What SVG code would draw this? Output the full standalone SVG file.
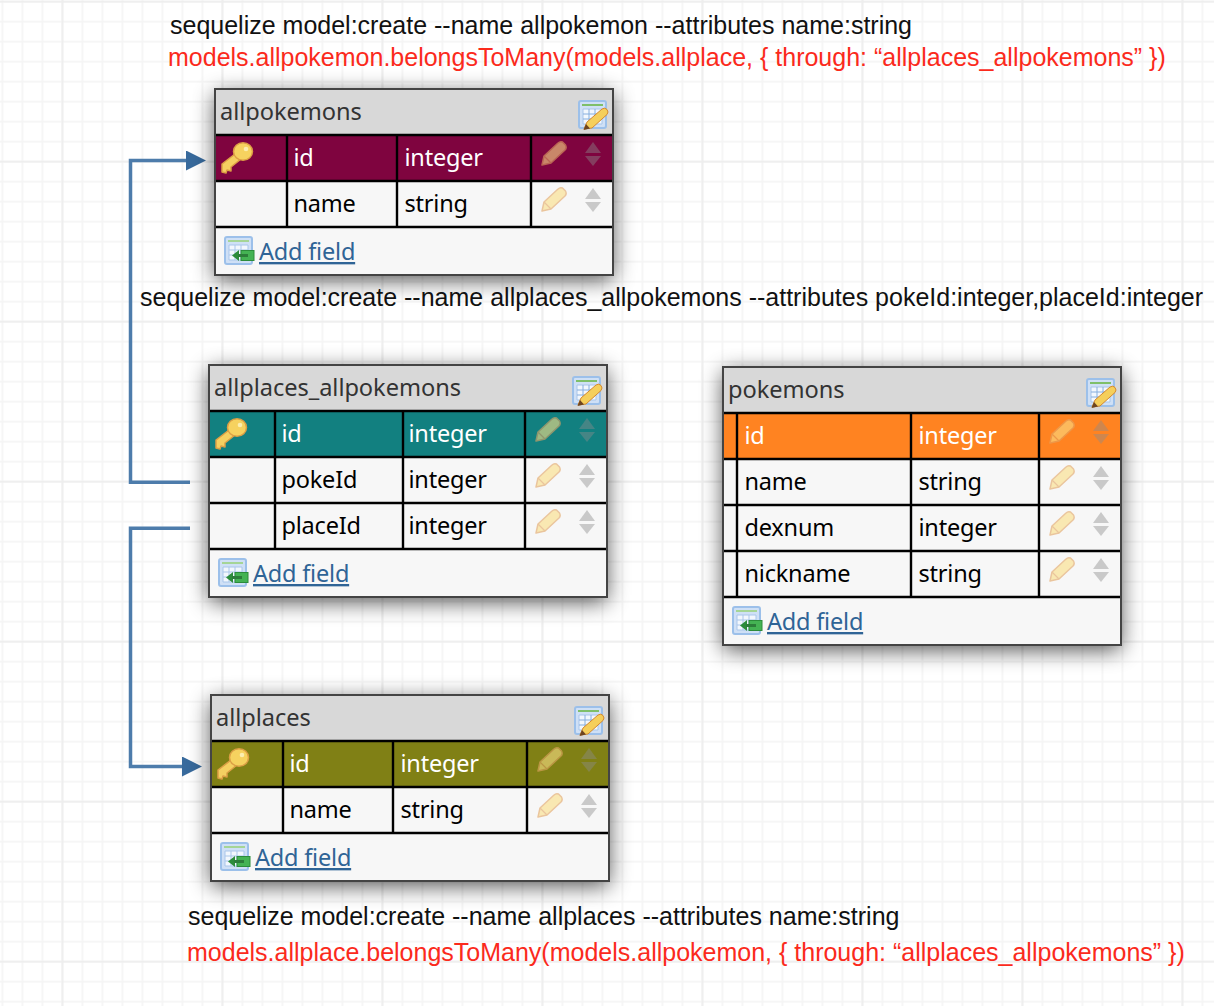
<svg xmlns="http://www.w3.org/2000/svg" width="1214" height="1006" viewBox="0 0 1214 1006">
<style>
.note{font-family:"Liberation Sans",Arial,sans-serif;font-size:25px;fill:#111}
.red{fill:#fb2a1c}
.title{font-family:"Noto Sans",sans-serif;font-size:23.6px;letter-spacing:-.05px;fill:#333}
.cell{font-family:"Noto Sans",sans-serif;font-size:23.5px;letter-spacing:-.2px;fill:#000}
.hd{fill:#fff}
.add{font-family:"Noto Sans",sans-serif;font-size:23.5px;letter-spacing:-.2px;fill:#2f6496;text-decoration:underline}
.box{fill:#f7f7f7}
.head{fill:#d8d8d8}
.frame{fill:none;stroke:#444;stroke-width:2}
.sep{stroke:#000;stroke-width:2.4;fill:none}
.conn{fill:none;stroke:#4d7cab;stroke-width:3.5}
.shade{fill:#000;opacity:.68}
</style>
<defs>
<pattern id="gminor" width="20" height="20" patternUnits="userSpaceOnUse" x="1.500" y="0.700"><path d="M0 0V20M0 0H20" stroke="#f5f5f5" stroke-width="3.600" fill="none"/></pattern>
<pattern id="gmajor" width="160" height="160" patternUnits="userSpaceOnUse" x="61.500" y="0.700"><path d="M0 0V160M0 0H160" stroke="#eeeeee" stroke-width="3.600" fill="none"/></pattern>
<filter id="shadow" x="-20%" y="-25%" width="140%" height="150%"><feGaussianBlur stdDeviation="11"/></filter>
<marker id="arrow" markerUnits="userSpaceOnUse" markerWidth="20" markerHeight="20" refX="0" refY="10" orient="auto"><path d="M0 0L20 10L0 20Z" fill="#386a9c"/></marker>
<g id="key">
<path d="M1 22L14 12L20 17L10 25L10 29L6 28L5 31L1 30Z" fill="#f5d061" stroke="#dc9f45" stroke-width="1.500" stroke-linejoin="round"/>
<ellipse cx="22" cy="9.500" rx="9.500" ry="8.800" fill="#f6d25f" stroke="#dc9f45" stroke-width="1.500"/>
<circle cx="25" cy="7" r="2.300" fill="#fbeeb0"/>
</g>
<g id="pencil" opacity=".6">
<path d="M0 23L2 14L16 1Q18 -1 20.500 0L23.500 3Q25 6 23 8L9 21Z" fill="#fbdf85" stroke="#e2a563" stroke-width="1.500" stroke-linejoin="round"/>
<path d="M2 14L9 21" stroke="#e2a563" stroke-width="1.200" fill="none"/>
</g>
<g id="updown" fill="#8c8c8c" opacity=".42"><path d="M0 11L8 0L16 11Z"/><path d="M0 14L16 14L8 24Z"/></g>
<g id="tableedit">
<rect x="1" y="1" width="27" height="27" rx="2" fill="#cfe0f6" stroke="#9cc0ea" stroke-width="2"/>
<rect x="4" y="4" width="21" height="2" fill="#7fbf6a"/>
<path d="M5 9H24V24H5Z" fill="#f2f7fd" stroke="#a9c6ea"/>
<path d="M5 14H24M5 19H24M11 9V24M17 9V24" stroke="#86aede" fill="none"/>
<path d="M6 29L9 22L24 9Q27 7 29 9.500Q31 12 29 14.500L14 28Z" fill="#f5cf5b" stroke="#d5892f"/>
<path d="M5.500 30L8 24L12 28.500Z" fill="#6d4420"/>
</g>
<g id="addfield">
<rect x="1" y="1" width="27" height="27" rx="2" fill="#cfe0f6" stroke="#9cc0ea" stroke-width="2"/>
<rect x="4" y="4" width="21" height="2" fill="#a5d596"/>
<path d="M5 9H24V24H5Z" fill="#f2f7fd" stroke="#a9c6ea"/>
<path d="M5 14H24M5 19H24M11 9V24M17 9V24" stroke="#a9c6ea" fill="none"/>
<rect x="17" y="14.500" width="13" height="10" fill="#44b353" stroke="#2c8c3b"/>
<path d="M8 19.500L15 14V25Z" fill="#2c8c3b"/>
<rect x="14" y="18" width="10" height="3" fill="#2c7d3a"/>
</g>
</defs>
<g id="background">
<rect width="1214" height="1006" fill="#fff"/>
<rect width="1214" height="1006" fill="url(#gminor)"/>
<rect width="1214" height="1006" fill="url(#gmajor)"/>
</g>

<g id="connectors">
<path class="conn" d="M190 482.300H130.500V160.500H186" marker-end="url(#arrow)"/>
<path class="conn" d="M190 528.300H130.500V766.500H182" marker-end="url(#arrow)"/>
</g>

<g id="allpokemons">
<rect class="shade" x="215" y="94" width="398" height="186" filter="url(#shadow)"/>
<rect class="box" x="215" y="89" width="398" height="186"/>
<rect class="head" x="215" y="89" width="398" height="46"/>
<rect x="215" y="135" width="398" height="46" fill="#7f043f"/>
<path class="sep" d="M215 135H613M215 181H613M215 227H613M287 135V227M397 135V227M531 135V227"/>
<rect class="frame" x="215" y="89" width="398" height="186"/>
<text class="title" x="220" y="120">allpokemons</text>
<use href="#tableedit" x="578" y="100"/>
<use href="#key" x="221" y="142"/>
<text class="cell hd" x="293.500" y="166">id</text>
<text class="cell hd" x="404.500" y="166">integer</text>
<use href="#pencil" x="542" y="142"/>
<use href="#updown" x="585" y="142"/>
<text class="cell" x="293.500" y="212">name</text>
<text class="cell" x="404.500" y="212">string</text>
<use href="#pencil" x="542" y="188"/>
<use href="#updown" x="585" y="188"/>
<use href="#addfield" x="224" y="236"/>
<text class="add" x="259" y="260">Add field</text>
</g>

<g id="allplaces_allpokemons">
<rect class="shade" x="209" y="370" width="398" height="232" filter="url(#shadow)"/>
<rect class="box" x="209" y="365" width="398" height="232"/>
<rect class="head" x="209" y="365" width="398" height="46"/>
<rect x="209" y="411" width="398" height="46" fill="#128080"/>
<path class="sep" d="M209 411H607M209 457H607M209 503H607M209 549H607M275 411V549M403 411V549M525 411V549"/>
<rect class="frame" x="209" y="365" width="398" height="232"/>
<text class="title" x="214" y="396">allplaces_allpokemons</text>
<use href="#tableedit" x="572" y="376"/>
<use href="#key" x="215" y="418"/>
<text class="cell hd" x="281.500" y="442">id</text>
<text class="cell hd" x="408.500" y="442">integer</text>
<use href="#pencil" x="536" y="418"/>
<use href="#updown" x="579" y="418"/>
<text class="cell" x="281.500" y="488">pokeId</text>
<text class="cell" x="408.500" y="488">integer</text>
<use href="#pencil" x="536" y="464"/>
<use href="#updown" x="579" y="464"/>
<text class="cell" x="281.500" y="534">placeId</text>
<text class="cell" x="408.500" y="534">integer</text>
<use href="#pencil" x="536" y="510"/>
<use href="#updown" x="579" y="510"/>
<use href="#addfield" x="218" y="558"/>
<text class="add" x="253" y="582">Add field</text>
</g>

<g id="pokemons">
<rect class="shade" x="723" y="372" width="398" height="278" filter="url(#shadow)"/>
<rect class="box" x="723" y="367" width="398" height="278"/>
<rect class="head" x="723" y="367" width="398" height="46"/>
<rect x="723" y="413" width="398" height="46" fill="#ff8321"/>
<path class="sep" d="M723 413H1121M723 459H1121M723 505H1121M723 551H1121M723 597H1121M737 413V597M911 413V597M1039 413V597"/>
<rect class="frame" x="723" y="367" width="398" height="278"/>
<text class="title" x="728" y="398">pokemons</text>
<use href="#tableedit" x="1086" y="378"/>
<text class="cell hd" x="744.500" y="444">id</text>
<text class="cell hd" x="918.500" y="444">integer</text>
<use href="#pencil" x="1050" y="420"/>
<use href="#updown" x="1093" y="420"/>
<text class="cell" x="744.500" y="490">name</text>
<text class="cell" x="918.500" y="490">string</text>
<use href="#pencil" x="1050" y="466"/>
<use href="#updown" x="1093" y="466"/>
<text class="cell" x="744.500" y="536">dexnum</text>
<text class="cell" x="918.500" y="536">integer</text>
<use href="#pencil" x="1050" y="512"/>
<use href="#updown" x="1093" y="512"/>
<text class="cell" x="744.500" y="582">nickname</text>
<text class="cell" x="918.500" y="582">string</text>
<use href="#pencil" x="1050" y="558"/>
<use href="#updown" x="1093" y="558"/>
<use href="#addfield" x="732" y="606"/>
<text class="add" x="767" y="630">Add field</text>
</g>

<g id="allplaces">
<rect class="shade" x="211" y="700" width="398" height="186" filter="url(#shadow)"/>
<rect class="box" x="211" y="695" width="398" height="186"/>
<rect class="head" x="211" y="695" width="398" height="46"/>
<rect x="211" y="741" width="398" height="46" fill="#808015"/>
<path class="sep" d="M211 741H609M211 787H609M211 833H609M283 741V833M393 741V833M527 741V833"/>
<rect class="frame" x="211" y="695" width="398" height="186"/>
<text class="title" x="216" y="726">allplaces</text>
<use href="#tableedit" x="574" y="706"/>
<use href="#key" x="217" y="748"/>
<text class="cell hd" x="289.500" y="772">id</text>
<text class="cell hd" x="400.500" y="772">integer</text>
<use href="#pencil" x="538" y="748"/>
<use href="#updown" x="581" y="748"/>
<text class="cell" x="289.500" y="818">name</text>
<text class="cell" x="400.500" y="818">string</text>
<use href="#pencil" x="538" y="794"/>
<use href="#updown" x="581" y="794"/>
<use href="#addfield" x="220" y="842"/>
<text class="add" x="255" y="866">Add field</text>
</g>

<g id="annotations">
<text class="note" x="170" y="33.700">sequelize model:create --name allpokemon --attributes name:string</text>
<text class="note red" x="168" y="66.300">models.allpokemon.belongsToMany(models.allplace, { through: “allplaces_allpokemons” })</text>
<text class="note" x="140" y="306">sequelize model:create --name allplaces_allpokemons --attributes pokeId:integer,placeId:integer</text>
<text class="note" x="188" y="925.300">sequelize model:create --name allplaces --attributes name:string</text>
<text class="note red" x="187" y="961.300">models.allplace.belongsToMany(models.allpokemon, { through: “allplaces_allpokemons” })</text>
</g>
</svg>
